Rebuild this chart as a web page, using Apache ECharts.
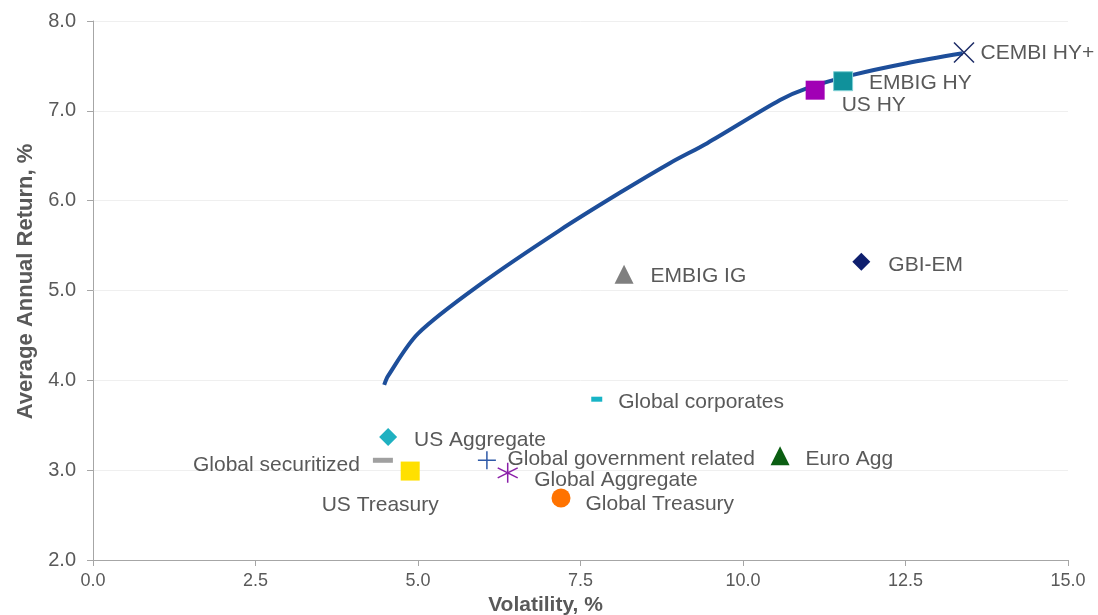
<!DOCTYPE html>
<html>
<head>
<meta charset="utf-8">
<script src="https://cdn.jsdelivr.net/npm/echarts@6/dist/echarts.min.js"></script>
<style>
  html, body { margin: 0; padding: 0; background: #fff; }
  #main { width: 1098px; height: 615px; }
</style>
</head>
<body>
<div id="main"></div>
<script>
// efficient frontier (volatility, return)
const frontierVol = [4.48, 4.54, 5.0, 6.0, 7.18, 8.11, 8.88, 9.45, 10.57, 10.98, 11.69, 12.52, 13.38];
const frontierRet = [3.95, 4.05, 4.52, 5.09, 5.67, 6.09, 6.42, 6.64, 7.12, 7.25, 7.40, 7.53, 7.64];

// individual indices
const names = ['CEMBI HY+', 'EMBIG HY', 'US HY', 'GBI-EM', 'EMBIG IG', 'Global corporates',
  'US Aggregate', 'Global securitized', 'US Treasury', 'Global government related',
  'Global Aggregate', 'Global Treasury', 'Euro Agg'];
const vols = [13.40, 11.54, 11.11, 11.82, 8.17, 7.75, 4.54, 4.46, 4.88, 6.06, 6.38, 7.20, 10.57];
const rets = [7.65, 7.33, 7.23, 5.32, 5.18, 3.79, 3.37, 3.11, 2.99, 3.11, 2.97, 2.69, 3.16];

const X_PATH = 'path://M0,0 L10,10 M10,0 L0,10';
const PLUS_PATH = 'path://M5,0 L5,10 M0,5 L10,5';
const STAR_PATH = 'path://M5,0 L5,10 M0.7,2.5 L9.3,7.5 M9.3,2.5 L0.7,7.5';

// marker look per index (symbol, size, fill, stroke, label offset)
const styles = {
  'CEMBI HY+': { symbol: X_PATH, size: 20, color: 'none', border: '#1b2a66', bw: 1.5, pos: 'right', off: [-2, 1] },
  'EMBIG HY': { symbol: 'rect', size: 19, color: '#10919b', border: '#7fd0d6', bw: 1, pos: 'right', off: [10, 2] },
  'US HY': { symbol: 'rect', size: 19, color: '#a100b5', border: '#a100b5', bw: 0, pos: 'right', off: [11, 15] },
  'GBI-EM': { symbol: 'diamond', size: 18, color: '#0f1f6e', border: '#0f1f6e', bw: 0, pos: 'right', off: [12, 3] },
  'EMBIG IG': { symbol: 'triangle', size: 19, color: '#7f7f7f', border: '#7f7f7f', bw: 0, pos: 'right', off: [11, 2] },
  'Global corporates': { symbol: 'rect', size: [11, 5], color: '#18b4c6', border: '#18b4c6', bw: 0, pos: 'right', off: [10, 3] },
  'US Aggregate': { symbol: 'diamond', size: 18, color: '#1fb1c1', border: '#1fb1c1', bw: 0, pos: 'right', off: [11, 3] },
  'Global securitized': { symbol: 'rect', size: [20, 5], color: '#a0a0a0', border: '#a0a0a0', bw: 0, pos: 'left', off: [-7, 5] },
  'US Treasury': { symbol: 'rect', size: 19, color: '#ffe000', border: '#ffe000', bw: 0, pos: 'bottom', off: [-30, 8] },
  'Global government related': { symbol: PLUS_PATH, size: 18, color: 'none', border: '#2f5aa8', bw: 1.5, pos: 'right', off: [3, -1] },
  'Global Aggregate': { symbol: STAR_PATH, size: 20, color: 'none', border: '#8a1fa8', bw: 1.5, pos: 'right', off: [8, 7] },
  'Global Treasury': { symbol: 'circle', size: 19, color: '#ff7300', border: '#ff7300', bw: 0, pos: 'right', off: [9, 6] },
  'Euro Agg': { symbol: 'triangle', size: 19, color: '#0b5e12', border: '#0b5e12', bw: 0, pos: 'right', off: [10, 3] }
};

const TEXT = '#595959';
const FONT = '"Liberation Sans", Arial, sans-serif';

const frontierData = frontierVol.map((v, i) => [v, frontierRet[i]]);

const pointData = names.map((n, i) => {
  const s = styles[n];
  return {
    name: n,
    value: [vols[i], rets[i]],
    symbol: s.symbol,
    symbolSize: s.size,
    itemStyle: { color: s.color, borderColor: s.border, borderWidth: s.bw, opacity: 1 },
    label: {
      show: true,
      formatter: n,
      position: s.pos,
      distance: 6,
      offset: s.off,
      color: TEXT,
      fontSize: 21,
      fontFamily: FONT
    }
  };
});

const chart = echarts.init(document.getElementById('main'), null, { renderer: 'canvas' });

chart.setOption({
  animation: false,
  backgroundColor: '#fff',
  grid: { left: 93, right: 30, top: 21, bottom: 55, containLabel: false, outerBoundsMode: 'none' },
  xAxis: {
    type: 'value',
    min: 0,
    max: 15,
    interval: 2.5,
    name: 'Volatility, %',
    nameLocation: 'middle',
    nameGap: 33,
    nameTextStyle: { fontWeight: 'bold', fontSize: 21, color: TEXT, fontFamily: FONT, padding: [0, 70, 0, 0] },
    axisLine: { lineStyle: { color: '#a6a6a6', width: 1 } },
    axisTick: { show: true, length: 6, lineStyle: { color: '#a6a6a6' } },
    axisLabel: { color: TEXT, fontSize: 18, fontFamily: FONT, margin: 12, formatter: v => v.toFixed(1) },
    splitLine: { show: false }
  },
  yAxis: {
    type: 'value',
    min: 2,
    max: 8,
    interval: 1,
    name: 'Average Annual Return, %',
    nameLocation: 'middle',
    nameGap: 52,
    nameTextStyle: { fontWeight: 'bold', fontSize: 22, color: TEXT, fontFamily: FONT, padding: [0, 0, 0, 18] },
    axisLine: { show: true, lineStyle: { color: '#a6a6a6', width: 1 } },
    axisTick: { show: true, length: 6, lineStyle: { color: '#a6a6a6' } },
    axisLabel: { color: TEXT, fontSize: 20, fontFamily: FONT, margin: 17, formatter: v => v.toFixed(1) },
    splitLine: { show: true, lineStyle: { color: '#efefef', width: 1 } }
  },
  series: [
    {
      name: 'Frontier',
      type: 'line',
      data: frontierData,
      smooth: 0.3,
      showSymbol: false,
      lineStyle: { color: '#1d4e9a', width: 4 },
      z: 2
    },
    {
      name: 'Indices',
      type: 'scatter',
      data: pointData,
      z: 3
    }
  ]
});
</script>
</body>
</html>
